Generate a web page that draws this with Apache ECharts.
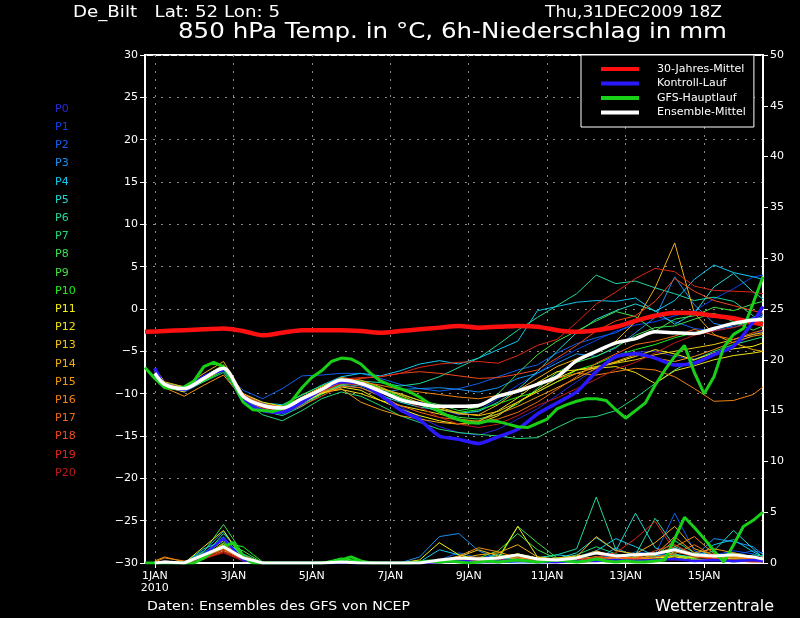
<!DOCTYPE html>
<html><head><meta charset="utf-8">
<script src="https://cdn.jsdelivr.net/npm/echarts@6/dist/echarts.min.js"></script>
<style>html,body{margin:0;padding:0;background:#000}#c{width:800px;height:618px}</style>
</head><body><div id="c"></div>
<script>
// hours since run time 31DEC2009 18Z
const hoursClim = [0,12,24,36,48,60,72,84,96,108,120,132,144,156,168,180,192,204,216,228,240,252,264,276,288,300,312,324,336,348,360,372,378];
const hoursEns  = [6,12,24,36,48,60,72,84,96,108,120,132,144,156,168,180,192,204,216,228,240,252,264,276,288,300,312,324,336,348,360,372,378];
const hoursOper = [0,6,12,18,24,30,36,42,48,54,60,66,72,78,84,90,96,102,108,114,120,126,132,138,144,150,156,162,168,174,180,186,192,198,204,210,216,222,228,234,240,246,252,258,264,270,276,282,288,294,300,306,312,318,324,330,336,342,348,354,360,366,372,378];
const dayTicks  = [6,54,102,150,198,246,294,342];
const dayLabels = ['1JAN\n2010','3JAN','5JAN','7JAN','9JAN','11JAN','13JAN','15JAN'];

const memberNames  = ['P0','P1','P2','P3','P4','P5','P6','P7','P8','P9','P10','P11','P12','P13','P14','P15','P16','P17','P18','P19','P20'];
const memberColors = ['#2828d8','#0840f0','#1060f0','#1890f0','#10c8f0','#20d8d0','#20d8a0','#20d878','#38e050','#40e040','#18f018','#f0f010','#f0e010','#f0c810','#f0b010','#f09810','#f08010','#f06818','#f04818','#e02818','#c01818'];

// 850 hPa temperature (°C)
const climTemp = [-2.7,-2.6,-2.5,-2.4,-2.3,-2.6,-3.1,-2.8,-2.5,-2.5,-2.5,-2.6,-2.8,-2.6,-2.4,-2.2,-2.0,-2.2,-2.1,-2.0,-2.1,-2.5,-2.7,-2.5,-2.1,-1.4,-0.8,-0.45,-0.5,-0.8,-1.1,-1.6,-1.8];
const meanTemp = [-7.6,-8.9,-9.4,-8.2,-7.0,-10.3,-11.4,-11.7,-10.6,-9.5,-8.4,-8.8,-9.7,-10.7,-11.2,-11.5,-11.5,-11.4,-10.3,-9.7,-8.9,-8.0,-6.1,-5.0,-4.0,-3.5,-2.7,-2.8,-2.9,-2.3,-1.7,-1.3,-1.2];
const controlTemp = [-7.0,-9.0,-9.5,-8.0,-7.2,-10.8,-12.0,-12.2,-11.0,-9.5,-8.6,-8.8,-10.2,-11.9,-13.1,-15.0,-15.4,-15.9,-15.1,-14.2,-12.4,-11.1,-9.8,-7.4,-5.6,-5.3,-5.8,-6.6,-6.4,-5.4,-4.4,-1.5,0.3];
const operTemp = [-6.9,-8.2,-9.3,-9.4,-9.2,-8.5,-6.8,-6.3,-6.8,-8.8,-11.0,-11.9,-12.0,-12.1,-11.8,-10.8,-9.3,-8.1,-7.3,-6.2,-5.8,-5.9,-6.5,-7.6,-8.5,-9.0,-9.4,-9.8,-10.4,-11.2,-12.1,-12.7,-13.1,-13.4,-13.5,-13.2,-13.3,-13.6,-13.9,-14.0,-13.5,-13.0,-11.8,-11.3,-10.9,-10.6,-10.6,-10.8,-11.9,-12.9,-12.0,-11.1,-9.0,-7.2,-5.6,-4.3,-7.5,-10.0,-8.0,-4.5,-3.0,-2.3,0.7,3.8];

const tempP0  = [-7.1,-9.0,-9.6,-8.0,-6.9,-10.5,-11.8,-12.2,-11.0,-9.6,-8.6,-8.9,-10.0,-11.5,-12.8,-13.9,-14.6,-14.9,-14.2,-13.0,-11.8,-10.2,-8.6,-7.0,-5.8,-5.1,-5.0,-5.6,-5.9,-5.2,-4.3,-3.0,-2.6];
const tempP1  = [-7.2,-8.8,-9.3,-8.3,-7.1,-10.0,-11.2,-11.9,-10.8,-9.9,-9.2,-9.0,-9.8,-10.6,-11.0,-11.8,-12.5,-12.0,-10.6,-9.0,-7.6,-6.0,-4.8,-3.7,-2.6,-1.9,-1.5,-0.8,-0.2,1.2,2.4,3.8,4.0];
const tempP2  = [-7.4,-9.1,-9.8,-8.6,-7.3,-9.6,-10.6,-9.4,-7.9,-7.8,-7.6,-7.6,-8.2,-8.9,-9.4,-9.7,-9.4,-8.8,-8.0,-7.2,-6.6,-5.2,-4.1,-3.4,-2.8,-1.6,-0.8,-1.5,-2.3,-2.6,-2.0,-1.0,-0.6];
const tempP3  = [-7.0,-8.7,-9.2,-8.0,-6.8,-10.2,-11.5,-12.0,-10.9,-9.6,-8.7,-9.1,-9.9,-9.5,-9.4,-9.3,-9.5,-9.8,-9.3,-8.2,-7.6,-6.4,-5.3,-5.6,-4.6,-2.8,-1.0,3.8,0.5,-1.7,-2.2,-1.3,-0.8];
const tempP4  = [-7.3,-8.9,-9.4,-8.1,-7.0,-10.1,-11.1,-11.3,-10.2,-9.0,-8.0,-7.6,-7.9,-7.3,-6.5,-6.1,-6.5,-5.8,-4.8,-3.8,-0.2,0.3,0.8,1.0,0.9,1.3,-0.3,1.0,3.5,5.2,4.3,3.8,3.5];
const tempP5  = [-7.2,-8.8,-9.2,-7.9,-6.7,-10.4,-11.9,-12.4,-11.3,-10.0,-9.0,-9.3,-10.2,-11.0,-11.6,-11.9,-12.3,-12.1,-11.0,-9.5,-7.4,-5.0,-2.8,-1.2,-0.2,0.6,-0.2,-1.8,-0.5,2.6,4.2,2.0,1.2];
const tempP6  = [-7.3,-9.0,-9.5,-8.3,-7.2,-10.6,-12.0,-12.6,-11.5,-10.1,-9.0,-8.5,-8.7,-9.1,-8.8,-8.0,-6.9,-5.8,-4.2,-2.5,-1.0,0.4,1.8,4.0,3.0,3.3,2.5,1.8,1.0,1.4,0.9,-0.8,-1.5];
const tempP7  = [-7.4,-9.2,-9.7,-8.6,-7.5,-10.8,-12.5,-13.2,-12.0,-10.6,-9.8,-10.3,-11.4,-12.6,-13.4,-14.2,-14.6,-14.8,-15.0,-15.3,-15.2,-14.0,-12.9,-12.7,-12.0,-10.5,-8.8,-7.2,-6.0,-5.0,-4.2,-3.6,-3.3];
const tempP8  = [-7.1,-8.8,-9.3,-8.1,-6.8,-10.2,-11.6,-12.1,-11.2,-9.9,-8.9,-9.0,-9.6,-10.4,-11.3,-12.2,-12.8,-13.0,-12.4,-11.2,-9.4,-7.5,-6.3,-5.6,-4.5,-3.1,-2.2,-2.0,-1.2,-0.5,-1.5,-2.5,-2.0];
const tempP9  = [-7.2,-9.0,-9.4,-8.2,-7.0,-10.3,-11.3,-11.4,-10.1,-9.1,-8.2,-8.6,-9.4,-10.1,-10.8,-11.3,-12.0,-11.6,-10.0,-7.6,-5.4,-3.8,-2.6,-1.4,-0.3,-0.9,-2.6,-1.2,-0.8,0.2,-0.2,0.6,0.9];
const tempP10 = [-7.3,-9.1,-9.6,-8.5,-7.3,-10.5,-11.6,-12.0,-10.7,-9.4,-8.3,-8.5,-9.3,-10.4,-11.2,-11.9,-12.2,-11.9,-11.2,-10.4,-9.8,-8.6,-7.2,-6.5,-5.5,-4.8,-4.2,-3.4,-2.8,-2.2,-1.8,-1.5,-1.4];
const tempP11 = [-7.2,-9.2,-9.8,-8.0,-6.6,-10.9,-12.1,-12.2,-11.1,-10.0,-9.2,-9.6,-10.8,-11.8,-12.6,-13.2,-13.6,-13.5,-12.6,-11.0,-9.6,-8.2,-7.2,-6.8,-6.3,-5.6,-4.8,-5.3,-6.0,-5.2,-4.7,-4.4,-4.0];
const tempP12 = [-7.4,-9.0,-9.3,-8.2,-7.0,-10.0,-11.0,-11.5,-10.8,-9.9,-9.5,-10.0,-10.8,-11.4,-11.9,-12.4,-13.0,-13.3,-12.0,-10.5,-8.7,-7.4,-7.2,-7.0,-6.8,-7.5,-8.8,-7.3,-6.7,-6.0,-5.5,-5.2,-5.0];
const tempP13 = [-7.1,-8.8,-9.5,-8.4,-7.1,-10.4,-11.5,-11.9,-10.9,-9.7,-8.7,-8.8,-9.4,-10.0,-10.8,-11.6,-12.3,-12.6,-12.1,-11.0,-9.8,-8.6,-7.6,-6.9,-6.4,-6.0,-5.4,-5.0,-4.6,-4.2,-3.6,-3.0,-2.8];
const tempP14 = [-7.0,-8.6,-9.2,-7.6,-6.2,-10.0,-11.3,-11.6,-10.4,-9.2,-8.1,-8.4,-9.2,-10.2,-11.1,-11.8,-12.4,-12.5,-11.3,-9.6,-8.2,-6.8,-5.9,-5.0,-3.8,-1.5,2.5,7.8,-0.5,-3.0,-4.0,-4.8,-5.0];
const tempP15 = [-7.3,-9.3,-10.3,-9.0,-7.8,-10.6,-11.4,-11.7,-10.5,-9.8,-9.4,-11.0,-11.9,-12.6,-13.0,-13.4,-13.6,-13.2,-12.4,-11.5,-10.4,-9.3,-8.2,-7.0,-6.2,-5.4,-5.8,-6.2,-5.6,-4.8,-3.9,-3.2,-3.0];
const tempP16 = [-7.2,-9.1,-9.6,-8.3,-7.0,-10.2,-11.4,-11.9,-11.0,-9.8,-8.8,-8.6,-9.0,-9.5,-9.8,-10.1,-10.4,-10.6,-10.2,-9.5,-8.8,-8.2,-7.6,-7.8,-7.4,-7.0,-7.2,-8.0,-9.4,-10.9,-10.8,-10.1,-9.2];
const tempP17 = [-7.4,-9.0,-9.4,-8.0,-6.8,-10.5,-11.8,-12.3,-11.4,-10.3,-9.1,-9.3,-10.3,-11.4,-12.2,-12.8,-13.1,-13.3,-13.0,-12.2,-11.0,-9.5,-8.0,-6.4,-5.3,-4.2,-3.8,-3.2,-2.4,-3.1,-3.6,-2.8,-2.5];
const tempP18 = [-7.1,-8.9,-9.3,-8.1,-7.0,-10.1,-11.2,-11.6,-10.7,-9.6,-8.6,-8.2,-8.0,-7.6,-7.4,-7.6,-7.9,-8.2,-8.1,-7.7,-7.2,-5.8,-4.3,-2.6,-1.4,-0.8,0.9,3.6,2.1,1.0,0.4,-0.2,-0.5];
const tempP19 = [-7.3,-9.0,-9.5,-8.3,-7.1,-10.4,-11.6,-12.0,-10.8,-9.4,-8.3,-8.1,-8.0,-7.6,-6.9,-6.5,-6.3,-6.2,-6.4,-5.5,-4.3,-3.6,-1.6,0.6,2.0,3.6,4.8,4.4,2.7,2.2,2.1,2.0,1.8];
const tempP20 = [-7.2,-8.8,-9.4,-8.2,-7.0,-10.6,-11.7,-12.1,-11.0,-9.7,-8.8,-9.0,-9.7,-10.6,-11.6,-12.8,-13.6,-14.0,-13.6,-12.6,-11.4,-10.5,-9.4,-8.3,-7.1,-6.3,-5.2,-4.0,-3.1,-2.6,-2.2,-1.6,-1.2];

// 6h precipitation (mm)
const meanPrecip    = [0,0.1,0,0.8,1.6,0.5,0,0,0,0,0.1,0,0,0,0,0.3,0.5,0.4,0.5,0.8,0.4,0.3,0.5,1.0,0.7,0.8,0.9,1.3,0.8,0.7,0.8,0.6,0.4];
const controlPrecip = [0,0,0,0.8,2.4,0.3,0,0,0,0,0,0,0,0,0,0.1,0.2,0.1,0.2,0.3,0.1,0.1,0.2,0.2,0.3,0.2,0.3,0.4,0.2,0.3,0.2,0.3,0.2];
const operPrecip    = [0,0,0,0,0,0,0.5,1.2,1.6,2.0,0.6,0,0,0,0,0,0,0,0,0.1,0.3,0.6,0.2,0,0,0,0,0,0.1,0.2,0.1,0.2,0.1,0,0.1,0.2,0.1,0.2,0.3,0.2,0.1,0.2,0.3,0.2,0.1,0.2,0.4,0.2,0.1,0.2,0.1,0.1,0.2,0.3,2.4,4.5,3.5,2.4,1.2,0.1,1.8,3.6,4.2,5.0];

const precipP0  = [0,0.1,0,0.8,1.8,0.2,0,0,0,0,0,0,0,0,0,0.1,0.3,0,0,0.2,0.1,0,0.3,0.6,0.2,0.5,0.3,0.4,0.2,0.3,0.1,0.2,0.1];
const precipP1  = [0,0,0,1.0,2.6,0.3,0,0,0,0,0,0.1,0,0,0,0.2,0.4,0.3,0.1,0,0,0.1,0.2,0.4,0.8,0.3,0.6,1.4,0.5,0.8,1.2,0.9,0.6];
const precipP2  = [0,0,0,0.6,1.4,0.2,0,0,0,0,0.1,0,0,0,0,0.3,1.0,0.5,0.8,0.4,0.1,0.2,0.6,0.9,0.4,1.1,0.8,4.9,1.2,0.6,0.8,1.2,1.0];
const precipP3  = [0,0.2,0,1.2,3.1,0.5,0,0,0,0,0,0,0,0,0.6,2.6,2.9,1.2,0.4,0.2,0.1,0.2,0.4,0.3,1.5,0.6,0.9,1.5,0.6,2.4,2.1,1.6,0.8];
const precipP4  = [0,0,0,1.4,2.2,0.4,0,0,0,0,0,0,0,0,0.1,1.3,0.8,0.4,0.6,0.3,0.5,0.8,0.6,1.2,2.4,1.6,0.7,0.9,0.4,1.8,2.3,1.1,0.6];
const precipP5  = [0,0,0,0.9,2.5,0.6,0,0,0,0,0.2,0,0,0,0,0.3,0.5,0.2,0.3,0.5,0.2,0.4,1.0,2.5,1.2,4.9,1.5,0.8,0.6,1.2,3.2,1.4,0.5];
const precipP6  = [0,0,0,0.7,2.9,0.8,0,0,0,0,0,0,0,0,0,0.2,0.1,0.3,0.4,0.6,0.5,0.8,1.4,6.5,1.3,0.8,4.4,1.6,0.9,0.7,1.0,0.6,0.4];
const precipP7  = [0,0,0,0.5,1.6,0.4,0,0,0,0,0,0,0,0,0,0,0.1,0.2,0.9,0.4,0.2,0.3,0.8,1.6,0.9,0.4,0.7,2.2,1.0,0.6,0.4,0.8,0.7];
const precipP8  = [0,0,0,1.1,3.8,0.9,0,0,0,0.1,0.3,0.1,0,0,0,0.1,0.2,0.4,0.3,3.6,2.0,0.5,0.3,0.6,0.4,0.3,0.6,0.4,0.7,0.5,0.3,0.6,0.4];
const precipP9  = [0,0,0,0.4,1.9,1.2,0,0,0,0,0.4,0.2,0,0,0,0.1,0.3,0.5,1.2,2.9,1.3,0.4,0.2,0.4,0.3,0.6,0.5,0.8,0.4,0.3,0.5,0.4,0.3];
const precipP10 = [0,0,0,0.6,2.0,1.6,0.1,0,0,0,0.5,0.1,0,0,0,0,0.2,0.1,0.3,0.4,0.2,0.3,0.4,0.2,0.3,0.5,0.3,0.4,0.6,0.5,0.4,0.3,0.2];
const precipP11 = [0,0,0,1.6,3.2,0.4,0,0,0,0,0,0,0,0,0.3,2.0,0.8,0.3,0.5,3.6,0.6,0.3,0.2,0.4,0.3,0.2,0.5,0.6,0.3,0.4,0.6,0.5,0.3];
const precipP12 = [0,0,0,0.8,2.2,0.3,0,0,0,0,0,0,0,0,0,0.3,0.5,0.4,0.6,0.9,0.5,0.3,0.4,0.6,0.5,0.4,0.3,0.7,0.5,0.6,0.8,0.4,0.3];
const precipP13 = [0,0,0,0.5,1.5,0.4,0,0,0,0,0,0,0,0,0,0.2,0.6,1.3,0.7,0.4,0.3,0.5,0.7,0.9,0.6,0.5,0.4,1.1,0.7,0.5,0.4,0.6,0.5];
const precipP14 = [0,0.1,0,0.7,1.9,0.6,0,0,0,0,0,0,0,0,0,0.1,0.4,0.8,1.0,1.8,0.6,0.4,0.6,2.6,1.2,0.9,2.0,3.6,1.4,0.8,0.6,0.5,0.4];
const precipP15 = [0.2,0.6,0.1,0.4,1.2,0.5,0,0,0,0,0,0,0,0,0,0.2,0.7,1.5,1.1,0.5,0.3,0.2,0.5,1.2,0.6,0.4,0.8,2.6,1.0,1.4,1.0,0.6,0.5];
const precipP16 = [0.1,0.5,0.2,0.6,1.4,0.3,0,0,0,0,0,0,0,0,0,0,0.3,0.6,0.4,0.3,0.2,0.3,0.5,0.4,0.3,0.6,0.9,1.6,2.6,0.9,0.7,0.4,0.6];
const precipP17 = [0,0.2,0,0.9,1.7,0.7,0,0,0,0,0,0,0,0,0,0.1,0.2,0.3,0.5,0.6,0.3,0.2,0.4,0.3,0.5,0.4,0.6,0.9,1.8,0.7,0.5,0.4,0.3];
const precipP18 = [0,0.1,0,0.6,1.3,0.4,0,0,0,0,0,0,0,0,0,0.2,0.4,0.2,0.3,0.4,0.2,0.3,0.2,0.5,0.6,0.4,1.2,1.8,0.8,0.5,0.3,0.2,0.2];
const precipP19 = [0,0,0,0.5,1.1,0.3,0,0,0,0,0,0,0,0,0,0.1,0.2,0.3,0.2,0.3,0.1,0.2,0.3,0.6,1.0,2.4,4.1,1.2,0.6,0.4,0.3,0.2,0.2];
const precipP20 = [0,0,0,0.4,1.0,0.2,0,0,0,0,0,0,0,0,0,0,0.1,0.2,0.1,0.2,0.1,0.1,0.2,0.3,0.2,0.3,0.4,0.3,0.2,0.3,0.2,0.1,0.1];

const memberTemps   = [tempP0,tempP1,tempP2,tempP3,tempP4,tempP5,tempP6,tempP7,tempP8,tempP9,tempP10,tempP11,tempP12,tempP13,tempP14,tempP15,tempP16,tempP17,tempP18,tempP19,tempP20];
const memberPrecips = [precipP0,precipP1,precipP2,precipP3,precipP4,precipP5,precipP6,precipP7,precipP8,precipP9,precipP10,precipP11,precipP12,precipP13,precipP14,precipP15,precipP16,precipP17,precipP18,precipP19,precipP20];

const FONT = 'DejaVu Sans';
const pairs = (xs, ys) => xs.map((x, i) => [x, ys[i]]);
const minus = v => (v < 0 ? '\u2212' + Math.abs(v) : String(v));
const dotted = { color: '#8a8a8a', type: [2, 6], width: 1 };

// header / footer texts, stretched horizontally to the wide plotter font
const measureCtx = document.createElement('canvas').getContext('2d');
function wideText(text, x, y, size, targetWidth) {
  measureCtx.font = size + 'px "' + FONT + '"';
  const w = measureCtx.measureText(text).width || targetWidth;
  return { type: 'text', x, y, scaleX: targetWidth / w, silent: true,
    style: { text, fill: '#fff', font: size + 'px "' + FONT + '"', verticalAlign: 'middle', align: 'left' } };
}

const series = [];
memberNames.forEach((name, i) => {
  const c = memberColors[i];
  series.push({ name, type: 'line', yAxisIndex: 0, data: pairs(hoursEns, memberTemps[i]),
    symbol: 'none', lineStyle: { width: 1, color: c }, itemStyle: { color: c }, silent: true });
  series.push({ name, type: 'line', yAxisIndex: 1, data: pairs(hoursEns, memberPrecips[i]),
    symbol: 'none', lineStyle: { width: 1, color: c }, itemStyle: { color: c }, silent: true });
});
const thick = (name, color, xs, ys, axis, width, smooth) => ({
  name, type: 'line', yAxisIndex: axis, data: pairs(xs, ys), symbol: 'none', smooth: smooth || false,
  lineStyle: { width, color }, itemStyle: { color }, silent: true });
series.push(thick('30-Jahres-Mittel', '#ff1010', hoursClim, climTemp, 0, 4.5, 0.3));
series.push(thick('Kontroll-Lauf', '#2a18ff', hoursEns, controlTemp, 0, 3.5, 0.2));
series.push(thick('Kontroll-Lauf', '#2a18ff', hoursEns, controlPrecip, 1, 2.5));
series.push(thick('GFS-Hauptlauf', '#18d018', hoursOper, operTemp, 0, 3));
series.push(thick('GFS-Hauptlauf', '#18d018', hoursOper, operPrecip, 1, 3));
series.push(thick('Ensemble-Mittel', '#ffffff', hoursEns, meanTemp, 0, 3.5, 0.3));
series.push(thick('Ensemble-Mittel', '#ffffff', hoursEns, meanPrecip, 1, 3));

const chart = echarts.init(document.getElementById('c'), null, { renderer: 'canvas' });
chart.setOption({
  backgroundColor: '#000',
  animation: false,
  textStyle: { fontFamily: FONT },
  graphic: [
    wideText('De_Bilt   Lat: 52 Lon: 5', 73, 13, 15, 207),
    wideText('Thu,31DEC2009 18Z', 545, 13, 15, 177),
    wideText('850 hPa Temp. in °C, 6h-Niederschlag in mm', 178, 33, 21, 549),
    wideText('Daten: Ensembles des GFS von NCEP', 147, 607, 12.5, 263),
    wideText('Wetterzentrale', 655, 607, 15, 119)
  ],
  legend: [
    { orient: 'vertical', left: 581, top: 55, selectedMode: false,
      data: ['30-Jahres-Mittel', 'Kontroll-Lauf', 'GFS-Hauptlauf', 'Ensemble-Mittel'],
      icon: 'rect', itemWidth: 38, itemHeight: 4, itemGap: 0.5,
      padding: [7, 8, 7.5, 20],
      textStyle: { color: '#fff', fontSize: 11, lineHeight: 14, padding: [0, 0, 0, 13], fontFamily: FONT },
      backgroundColor: '#000', borderColor: '#fff', borderWidth: 1 },
    { orient: 'vertical', left: 50, top: 102, selectedMode: false, padding: 0,
      itemWidth: 0, itemHeight: 0, itemGap: 4.2, icon: 'rect',
      data: memberNames.map((n, i) => ({ name: n, textStyle: { color: memberColors[i] } })),
      textStyle: { fontSize: 11, lineHeight: 14, fontFamily: FONT } }
  ],
  grid: { left: 145, right: 37, top: 55, bottom: 55, show: true, borderColor: '#fff', borderWidth: 2, backgroundColor: 'transparent' },
  xAxis: {
    type: 'value', min: 0, max: 378,
    axisLine: { show: true, onZero: false, lineStyle: { color: '#fff', width: 2 } },
    axisTick: { show: true, inside: false, length: 5, customValues: dayTicks, lineStyle: { color: '#fff' } },
    axisLabel: { customValues: dayTicks, color: '#fff', fontSize: 11, lineHeight: 12, margin: 7, fontFamily: FONT,
      formatter: v => dayLabels[dayTicks.indexOf(v)] || '' },
    splitLine: { show: true, lineStyle: dotted }
  },
  yAxis: [
    { type: 'value', position: 'left', min: -30, max: 30, interval: 5,
      axisLine: { show: true, onZero: false, lineStyle: { color: '#fff', width: 2 } },
      axisTick: { show: true, inside: false, length: 5, lineStyle: { color: '#fff' } },
      axisLabel: { color: '#fff', fontSize: 11, margin: 7, fontFamily: FONT, formatter: minus },
      splitLine: { show: true, lineStyle: dotted } },
    { type: 'value', position: 'right', min: 0, max: 50, interval: 5,
      axisLine: { show: true, onZero: false, lineStyle: { color: '#fff', width: 2 } },
      axisTick: { show: true, inside: false, length: 5, lineStyle: { color: '#fff' } },
      axisLabel: { color: '#fff', fontSize: 11, margin: 7, fontFamily: FONT },
      splitLine: { show: false } }
  ],
  series
});
</script>
</body></html>
